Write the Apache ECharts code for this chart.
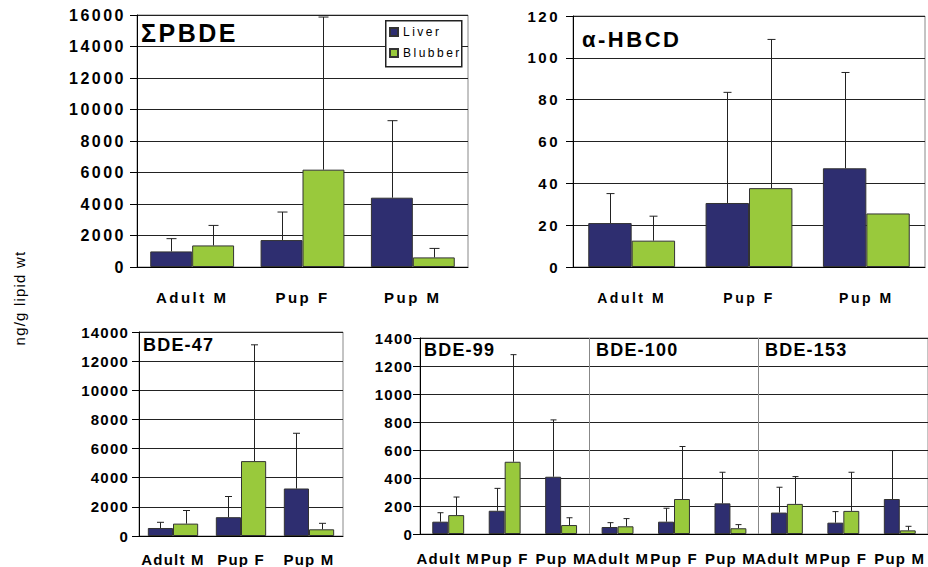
<!DOCTYPE html>
<html>
<head>
<meta charset="utf-8">
<script src="https://cdn.jsdelivr.net/npm/echarts@6/dist/echarts.min.js"></script>
<style>
  html, body { margin: 0; padding: 0; background: #fff; }
  .layer { position: absolute; left: 0; top: 0; width: 928px; height: 567px; }
  /* the original Excel figure is stretched sideways, so text looks tracked out */
  #top text { letter-spacing: 2.5px; }
  #bottom text { letter-spacing: 1.2px; }
</style>
</head>
<body>
<div id="bottom" class="layer"></div>
<div id="top" class="layer"></div>
<script>
const groups = ['Adult M', 'Pup F', 'Pup M'];
const congenerGroups = ['Adult M', 'Pup F', 'Pup M', 'Adult M', 'Pup F', 'Pup M', 'Adult M', 'Pup F', 'Pup M'];
const congenerNames = ['BDE-99', 'BDE-100', 'BDE-153'];

const pbdeLiver = [990, 1710, 4400];
const pbdeLiverSd = [810, 1780, 4890];
const pbdeBlubber = [1370, 6180, 610];
const pbdeBlubberSd = [1270, 9690, 570];

const hbcdLiver = [21, 30.6, 47.2];
const hbcdLiverSd = [14.1, 52.9, 45.8];
const hbcdBlubber = [12.6, 37.7, 25.6];
const hbcdBlubberSd = [11.7, 71.1, null];

const bde47Liver = [550, 1290, 3260];
const bde47LiverSd = [390, 1420, 3790];
const bde47Blubber = [850, 5140, 460];
const bde47BlubberSd = [900, 7980, 410];

// BDE-99 | BDE-100 | BDE-153
const congenerLiver = [88, 166, 409, 50, 88, 219, 153, 81, 250];
const congenerLiverSd = [64, 160, 406, 31, 96, 222, 181, 79, 346];
const congenerBlubber = [135, 516, 64, 55, 250, 41, 215, 165, 26];
const congenerBlubberSd = [129, 765, 52, 55, 375, 26, 195, 276, 29];

const liverColor = '#2E2E70';
const blubberColor = '#99C93C';
const font = 'Liberation Sans, Arial, sans-serif';

function bars(name, data, color, axis, gap) {
  return {
    type: 'bar', name: name, data: data,
    xAxisIndex: axis, yAxisIndex: axis,
    barGap: '0%', barCategoryGap: gap * 100 + '%',
    itemStyle: { color: color, borderColor: '#333', borderWidth: 1 },
    silent: true
  };
}

// upper error bar only, drawn at the centre of the left (-1) or right (+1) bar
function errors(means, sds, side, axis, gap, cap) {
  const items = [];
  means.forEach((m, i) => { if (sds[i] != null) items.push([i, m, m + sds[i]]); });
  return {
    type: 'custom', xAxisIndex: axis, yAxisIndex: axis, z: 5, silent: true,
    data: items,
    renderItem: (params, api) => {
      const base = api.coord([api.value(0), api.value(1)]);
      const top = api.coord([api.value(0), api.value(2)]);
      const bw = api.size([1, 0])[0] * (1 - gap) / 2;
      const x = Math.round(base[0] + side * bw / 2) + 0.5;
      const st = { stroke: '#222', lineWidth: 1 };
      return {
        type: 'group', children: [
          { type: 'line', shape: { x1: x, y1: base[1], x2: x, y2: top[1] }, style: st },
          { type: 'line', shape: { x1: x - cap / 2, y1: top[1], x2: x + cap / 2, y2: top[1] }, style: st }
        ]
      };
    }
  };
}

function catAxis(idx, data, size, margin) {
  return {
    gridIndex: idx, type: 'category', data: data,
    axisLine: { lineStyle: { color: '#000' } },
    axisTick: { length: 6, lineStyle: { color: '#000' } },
    axisLabel: { interval: 0, hideOverlap: false, color: '#000', fontWeight: 'bold', fontSize: size, margin: margin, fontFamily: font }
  };
}

function valAxis(idx, max, interval, size, margin) {
  return {
    gridIndex: idx, type: 'value', min: 0, max: max, interval: interval,
    axisLine: { show: true, lineStyle: { color: '#000' } },
    axisTick: { show: true, length: 7, lineStyle: { color: '#000' } },
    splitLine: { lineStyle: { color: '#222' } },
    axisLabel: {
      color: '#000', fontWeight: 'bold', fontSize: size, margin: margin, fontFamily: font,
      formatter: v => String(v)
    }
  };
}

const gridStyle = { show: true, borderColor: '#888', borderWidth: 1, backgroundColor: 'transparent' };

const topChart = echarts.init(document.getElementById('top'), null, { renderer: 'svg' });
topChart.setOption({
  animation: false,
  title: [
    { text: 'ΣPBDE', left: 141, top: 20, padding: 0, textStyle: { fontSize: 25, fontWeight: 'bold', color: '#000', fontFamily: font } },
    { text: 'α-HBCD', left: 582, top: 28, padding: 0, textStyle: { fontSize: 22, fontWeight: 'bold', color: '#000', fontFamily: font } }
  ],
  legend: {
    data: ['Liver', 'Blubber'], orient: 'vertical', left: 389, top: 26, padding: 0,
    itemWidth: 8, itemHeight: 8, itemGap: 9, icon: 'rect', selectedMode: false,
    textStyle: { fontSize: 12, color: '#000', fontFamily: font }
  },
  graphic: [
    { type: 'rect', left: 385, top: 20, z: 3, shape: { width: 76, height: 46 }, style: { fill: '#fff', stroke: '#222', lineWidth: 1.5 } }
  ],
  grid: [
    Object.assign({ left: 137, top: 15, width: 331, height: 252 }, gridStyle),
    Object.assign({ left: 573, top: 16, width: 352, height: 251 }, gridStyle)
  ],
  xAxis: [catAxis(0, groups, 15, 23), catAxis(1, groups, 14, 24)],
  yAxis: [valAxis(0, 16000, 2000, 16, 11), valAxis(1, 120, 20, 15, 13)],
  series: [
    bars('Liver', pbdeLiver, liverColor, 0, 0.24),
    bars('Blubber', pbdeBlubber, blubberColor, 0, 0.24),
    errors(pbdeLiver, pbdeLiverSd, -1, 0, 0.24, 10),
    errors(pbdeBlubber, pbdeBlubberSd, 1, 0, 0.24, 10),
    bars('Liver', hbcdLiver, liverColor, 1, 0.26),
    bars('Blubber', hbcdBlubber, blubberColor, 1, 0.26),
    errors(hbcdLiver, hbcdLiverSd, -1, 1, 0.26, 8),
    errors(hbcdBlubber, hbcdBlubberSd, 1, 1, 0.26, 8)
  ]
});

const bottomChart = echarts.init(document.getElementById('bottom'), null, { renderer: 'svg' });
const sepAxis = {
  // invisible axis used only for the grey lines between the three congeners
  gridIndex: 1, type: 'value', min: 0, max: congenerGroups.length, interval: groups.length,
  position: 'top', axisLine: { show: false }, axisTick: { show: false }, axisLabel: { show: false },
  splitLine: { show: true, lineStyle: { color: '#888' } }
};
// empty strip on the far left that only carries the shared y-axis title
const hidden = { axisLine: { show: false }, axisTick: { show: false }, axisLabel: { show: false }, splitLine: { show: false } };
bottomChart.setOption({
  animation: false,
  title: [
    { text: 'BDE-47', left: 143, top: 336, padding: 0, textStyle: { fontSize: 18, fontWeight: 'bold', color: '#000', fontFamily: font } },
    { text: congenerNames[0], left: 424, top: 341, padding: 0, textStyle: { fontSize: 18, fontWeight: 'bold', color: '#000', fontFamily: font } },
    { text: congenerNames[1], left: 596, top: 341, padding: 0, textStyle: { fontSize: 18, fontWeight: 'bold', color: '#000', fontFamily: font } },
    { text: congenerNames[2], left: 765, top: 341, padding: 0, textStyle: { fontSize: 18, fontWeight: 'bold', color: '#000', fontFamily: font } }
  ],
  grid: [
    Object.assign({ left: 139, top: 332, width: 204, height: 204 }, gridStyle),
    Object.assign({ left: 420, top: 338, width: 510, height: 196 }, gridStyle),
    { left: 60, top: 250, width: 10, height: 96, show: false }
  ],
  xAxis: [
    catAxis(0, groups, 15, 16), catAxis(1, congenerGroups, 15, 17), sepAxis,
    Object.assign({ gridIndex: 2, type: 'value', min: 0, max: 1 }, hidden)
  ],
  yAxis: [
    valAxis(0, 14000, 2000, 15, 10), valAxis(1, 1400, 200, 15, 7),
    Object.assign({
      gridIndex: 2, type: 'value', min: 0, max: 1,
      name: 'ng/g lipid wt', nameLocation: 'middle', nameRotate: 90, nameGap: 33,
      nameTextStyle: { fontSize: 15, color: '#000', fontFamily: 'Liberation Sans Narrow, Liberation Sans, sans-serif' }
    }, hidden)
  ],
  series: [
    bars('Liver', bde47Liver, liverColor, 0, 0.26),
    bars('Blubber', bde47Blubber, blubberColor, 0, 0.26),
    errors(bde47Liver, bde47LiverSd, -1, 0, 0.26, 7),
    errors(bde47Blubber, bde47BlubberSd, 1, 0, 0.26, 7),
    bars('Liver', congenerLiver, liverColor, 1, 0.435),
    bars('Blubber', congenerBlubber, blubberColor, 1, 0.435),
    errors(congenerLiver, congenerLiverSd, -1, 1, 0.435, 6),
    errors(congenerBlubber, congenerBlubberSd, 1, 1, 0.435, 6)
  ]
});
</script>
</body>
</html>
